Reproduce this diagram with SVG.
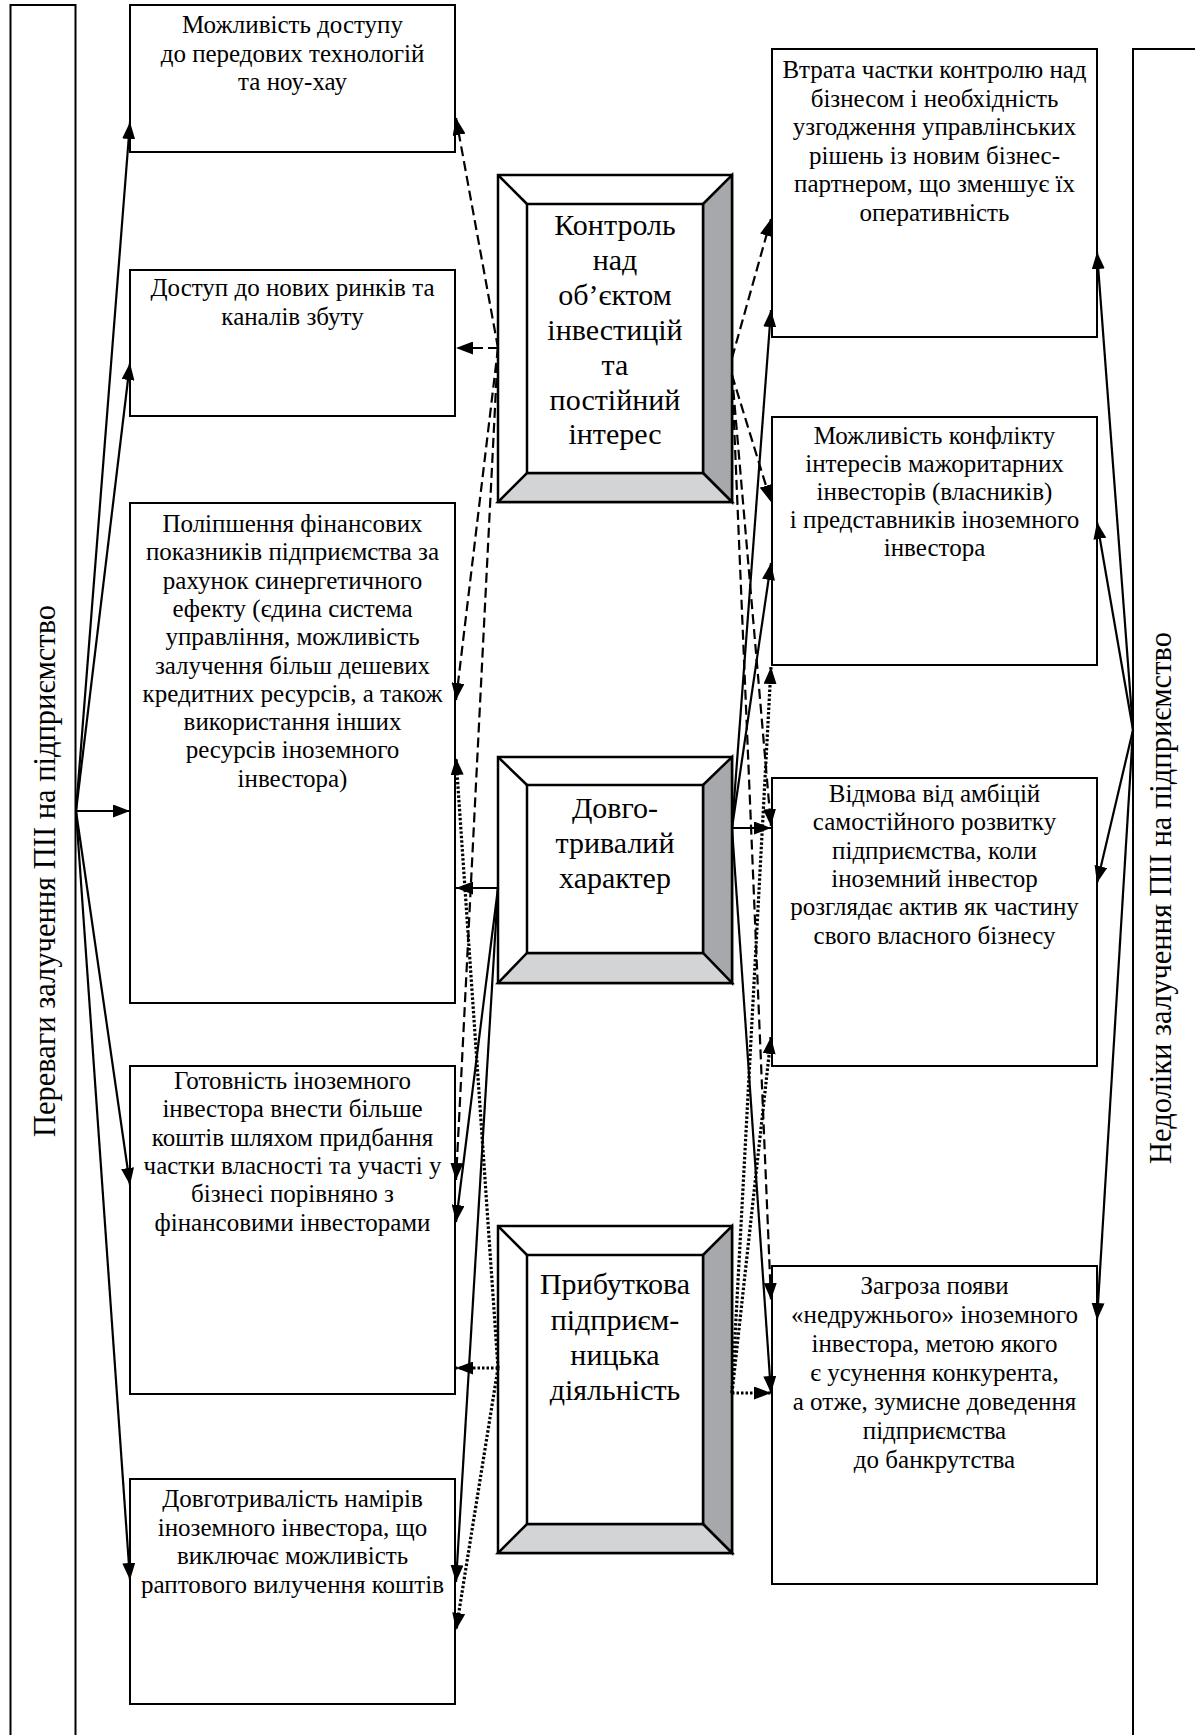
<svg xmlns="http://www.w3.org/2000/svg" width="1195" height="1735" viewBox="0 0 1195 1735">
<defs>
<style>
.bx{fill:#fff;stroke:#000;stroke-width:2}
.cb{fill:#fff;stroke:#000;stroke-width:2.5}
.dk{fill:#a7a8ac;stroke:#000;stroke-width:2.5;stroke-linejoin:miter}
.lt{fill:#d3d4d6;stroke:#000;stroke-width:2.5}
.t{font-family:"Liberation Serif","Times New Roman",serif;font-size:25px;text-anchor:middle;fill:#000}
.c{font-family:"Liberation Serif","Times New Roman",serif;font-size:30px;text-anchor:middle;fill:#000}
.v{font-family:"Liberation Serif","Times New Roman",serif;font-size:30.5px;text-anchor:middle;fill:#000}
.s{fill:none;stroke:#000;stroke-width:2.2;marker-end:url(#ah)}
.d{fill:none;stroke:#000;stroke-width:2.2;stroke-dasharray:10 5;marker-end:url(#ah)}
.o{fill:none;stroke:#000;stroke-width:3.2;stroke-dasharray:2.5 2;marker-end:url(#ah)}
</style>
<marker id="ah" viewBox="0 0 17 13" refX="17" refY="6.5" markerWidth="17" markerHeight="13" markerUnits="userSpaceOnUse" orient="auto">
<path d="M0,0 L17,6.5 L0,13 z" fill="#000"/>
</marker>
</defs>
<rect x="0" y="0" width="1195" height="1735" fill="#fff"/>

<g id="left-panel">
<rect class="bx" x="10.5" y="5" width="65" height="1800"/>
<text class="v" transform="translate(44,871) rotate(-90)" dy="0.35em">Переваги залучення ПІІ на підприємство</text>
</g>
<g id="right-panel">
<rect class="bx" x="1133" y="49" width="120" height="1800"/>
<text class="v" transform="translate(1160,898) rotate(-90)" dy="0.35em">Недоліки залучення ПІІ на підприємство</text>
</g>

<g id="b1">
<rect class="bx" x="130" y="5" width="325" height="147"/>
<text class="t" x="292.5" y="33">Можливість доступу</text>
<text class="t" x="292.5" y="61.5">до передових технологій</text>
<text class="t" x="292.5" y="90">та ноу-хау</text>
</g>
<g id="b2">
<rect class="bx" x="130" y="270" width="325" height="146"/>
<text class="t" x="292.5" y="296">Доступ до нових ринків та</text>
<text class="t" x="292.5" y="324.5">каналів збуту</text>
</g>
<g id="b3">
<rect class="bx" x="130" y="503" width="325" height="500"/>
<text class="t" x="292.5" y="532">Поліпшення фінансових</text>
<text class="t" x="292.5" y="560.3">показників підприємства за</text>
<text class="t" x="292.5" y="588.6">рахунок синергетичного</text>
<text class="t" x="292.5" y="616.9">ефекту (єдина система</text>
<text class="t" x="292.5" y="645.2">управління, можливість</text>
<text class="t" x="292.5" y="673.5">залучення більш дешевих</text>
<text class="t" x="292.5" y="701.8">кредитних ресурсів, а також</text>
<text class="t" x="292.5" y="730.1">використання інших</text>
<text class="t" x="292.5" y="758.4">ресурсів іноземного</text>
<text class="t" x="292.5" y="786.7">інвестора)</text>
</g>
<g id="b4">
<rect class="bx" x="130" y="1066" width="325" height="328"/>
<text class="t" x="292.5" y="1089">Готовність іноземного</text>
<text class="t" x="292.5" y="1117.3">інвестора внести більше</text>
<text class="t" x="292.5" y="1145.6">коштів шляхом придбання</text>
<text class="t" x="292.5" y="1173.9">частки власності та участі у</text>
<text class="t" x="292.5" y="1202.2">бізнесі порівняно з</text>
<text class="t" x="292.5" y="1230.5">фінансовими інвесторами</text>
</g>
<g id="b5">
<rect class="bx" x="130" y="1479" width="325" height="225"/>
<text class="t" x="292.5" y="1507">Довготривалість намірів</text>
<text class="t" x="292.5" y="1535.5">іноземного інвестора, що</text>
<text class="t" x="292.5" y="1564">виключає можливість</text>
<text class="t" x="292.5" y="1592.5">раптового вилучення коштів</text>
</g>

<g id="c1">
<rect class="cb" x="498" y="175" width="234" height="327"/>
<polygon class="dk" points="703,204 732,175 732,502 703,473"/>
<polygon class="lt" points="527,473 703,473 732,502 498,502"/>
<line x1="498" y1="175" x2="527" y2="204" stroke="#000" stroke-width="2.5"/>
<rect class="cb" x="527" y="204" width="176" height="269"/>
<text class="c" x="615" y="235">Контроль</text>
<text class="c" x="615" y="270">над</text>
<text class="c" x="615" y="305">об’єктом</text>
<text class="c" x="615" y="340">інвестицій</text>
<text class="c" x="615" y="375">та</text>
<text class="c" x="615" y="410">постійний</text>
<text class="c" x="615" y="444">інтерес</text>
</g>
<g id="c2">
<rect class="cb" x="498" y="757" width="234" height="226"/>
<polygon class="dk" points="703,785 732,757 732,983 703,953"/>
<polygon class="lt" points="527,953 703,953 732,983 498,983"/>
<line x1="498" y1="757" x2="527" y2="785" stroke="#000" stroke-width="2.5"/>
<rect class="cb" x="527" y="785" width="176" height="168"/>
<text class="c" x="615" y="818">Довго-</text>
<text class="c" x="615" y="853">тривалий</text>
<text class="c" x="615" y="888">характер</text>
</g>
<g id="c3">
<rect class="cb" x="498" y="1226" width="234" height="327"/>
<polygon class="dk" points="703,1255 732,1226 732,1553 703,1524"/>
<polygon class="lt" points="527,1524 703,1524 732,1553 498,1553"/>
<line x1="498" y1="1226" x2="527" y2="1255" stroke="#000" stroke-width="2.5"/>
<rect class="cb" x="527" y="1255" width="176" height="269"/>
<text class="c" x="615" y="1294">Прибуткова</text>
<text class="c" x="615" y="1330">підприєм-</text>
<text class="c" x="615" y="1365">ницька</text>
<text class="c" x="615" y="1400">діяльність</text>
</g>

<g id="r1">
<rect class="bx" x="772" y="49" width="325" height="288"/>
<text class="t" x="934.5" y="78">Втрата частки контролю над</text>
<text class="t" x="934.5" y="106.5">бізнесом і необхідність</text>
<text class="t" x="934.5" y="135">узгодження управлінських</text>
<text class="t" x="934.5" y="163.5">рішень із новим бізнес-</text>
<text class="t" x="934.5" y="192">партнером, що зменшує їх</text>
<text class="t" x="934.5" y="220.5">оперативність</text>
</g>
<g id="r2">
<rect class="bx" x="772" y="417" width="325" height="248"/>
<text class="t" x="934.5" y="444">Можливість конфлікту</text>
<text class="t" x="934.5" y="472">інтересів мажоритарних</text>
<text class="t" x="934.5" y="500">інвесторів (власників)</text>
<text class="t" x="934.5" y="528">і представників іноземного</text>
<text class="t" x="934.5" y="556">інвестора</text>
</g>
<g id="r3">
<rect class="bx" x="772" y="778" width="325" height="288"/>
<text class="t" x="934.5" y="802">Відмова від амбіцій</text>
<text class="t" x="934.5" y="830.3">самостійного розвитку</text>
<text class="t" x="934.5" y="858.6">підприємства, коли</text>
<text class="t" x="934.5" y="886.9">іноземний інвестор</text>
<text class="t" x="934.5" y="915.2">розглядає актив як частину</text>
<text class="t" x="934.5" y="943.5">свого власного бізнесу</text>
</g>
<g id="r4">
<rect class="bx" x="772" y="1266" width="325" height="318"/>
<text class="t" x="934.5" y="1294">Загроза появи</text>
<text class="t" x="934.5" y="1323">«недружнього» іноземного</text>
<text class="t" x="934.5" y="1352">інвестора, метою якого</text>
<text class="t" x="934.5" y="1381">є усунення конкурента,</text>
<text class="t" x="934.5" y="1410">а отже, зумисне доведення</text>
<text class="t" x="934.5" y="1439">підприємства</text>
<text class="t" x="934.5" y="1468">до банкрутства</text>
</g>

<g id="connectors">
<path class="s" d="M76,811 L130,122"/>
<path class="s" d="M76,811 L130,363"/>
<path class="s" d="M76,811 L130,811"/>
<path class="s" d="M76,811 L130,1185"/>
<path class="s" d="M76,811 L130,1580"/>

<path class="d" d="M498,348 L456,118"/>
<path class="d" d="M498,348 L456,348"/>
<path class="d" d="M498,348 L456,700"/>
<path class="d" d="M498,348 L456,1180"/>

<path class="s" d="M498,888 L456,888"/>
<path class="s" d="M498,888 L456,1222"/>
<path class="s" d="M498,888 L456,1582"/>

<path class="o" d="M498,1368 L456,758"/>
<path class="o" d="M498,1368 L456,1368"/>
<path class="o" d="M498,1368 L456,1630"/>

<path class="d" d="M732,358 L771,219"/>
<path class="d" d="M732,375 L771,502"/>
<path class="d" d="M732,375 L771,826"/>
<path class="d" d="M732,375 L771,1300"/>

<path class="s" d="M732,828 L771,310"/>
<path class="s" d="M732,828 L771,563"/>
<path class="s" d="M732,828 L771,828"/>
<path class="s" d="M732,828 L771,1393"/>

<path class="o" d="M732,1393 L771,667"/>
<path class="o" d="M732,1393 L771,1037"/>
<path class="o" d="M732,1393 L771,1393"/>

<path class="s" d="M1133,730 L1097,252"/>
<path class="s" d="M1133,730 L1097,522"/>
<path class="s" d="M1133,730 L1097,883"/>
<path class="s" d="M1133,730 L1097,1320"/>
</g>
</svg>
